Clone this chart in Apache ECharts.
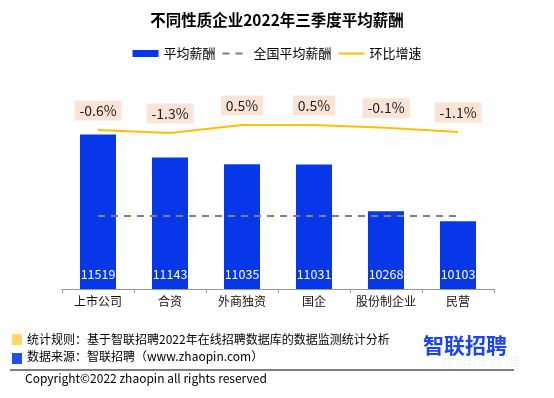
<!DOCTYPE html>
<html>
<head>
<meta charset="utf-8">
<script src="https://cdn.jsdelivr.net/npm/echarts@6/dist/echarts.min.js"></script>
<style>
html,body{margin:0;padding:0;background:#fff;}
#chart{width:554px;height:398px;}
</style>
</head>
<body>
<div id="chart"></div>
<script>
// 企业性质
var categories = ['上市公司', '合资', '外商独资', '国企', '股份制企业', '民营'];
// 平均薪酬
var salary = [11519, 11143, 11035, 11031, 10268, 10103];
// 全国平均薪酬
var national = [10190, 10190, 10190, 10190, 10190, 10190];
// 环比增速 (%)
var growth = [-0.6, -1.3, 0.5, 0.5, -0.1, -1.1];

var FONT = '"Noto Sans CJK SC", "Microsoft YaHei", sans-serif';

var option = {
    textStyle: {fontFamily: FONT},
    title: {
        text: '不同性质企业2022年三季度平均薪酬',
        left: 'center',
        top: 7,
        textStyle: {fontSize: 15.5, fontWeight: 'bold', color: '#000', fontFamily: FONT}
    },
    legend: {
        top: 42,
        left: 'center',
        itemGap: 6,
        itemWidth: 26,
        itemHeight: 7,
        textStyle: {fontSize: 13, color: '#000', fontFamily: FONT},
        data: [
            {name: '平均薪酬', icon: 'rect'},
            {name: '全国平均薪酬'},
            {name: '环比增速'}
        ]
    },
    grid: {left: 62, right: 60, top: 105, bottom: 109},
    xAxis: {
        type: 'category',
        data: categories,
        axisLine: {onZero: false, lineStyle: {color: '#999'}},
        axisTick: {show: true, length: 4, lineStyle: {color: '#999'}},
        axisLabel: {color: '#111', fontSize: 12, margin: 6, interval: 0}
    },
    yAxis: [{
        type: 'value',
        min: 9000,
        max: 12000,
        show: false
    }, {
        type: 'value',
        min: -36.4,
        max: 5,
        show: false
    }],
    series: [{
        name: '平均薪酬',
        type: 'bar',
        data: salary,
        barWidth: 36,
        itemStyle: {color: '#0638e9'},
        label: {
            show: true,
            position: 'insideBottom',
            distance: 8,
            color: '#fff',
            fontSize: 12.5
        }
    }, {
        name: '全国平均薪酬',
        type: 'line',
        data: national,
        symbol: 'circle',
        symbolSize: 1,
        lineStyle: {color: '#808080', width: 2, type: [7, 6]},
        itemStyle: {color: 'rgba(0,0,0,0)'}
    }, {
        name: '环比增速',
        type: 'line',
        yAxisIndex: 1,
        data: growth,
        symbol: 'circle',
        symbolSize: 1,
        lineStyle: {color: '#ffc000', width: 2},
        itemStyle: {color: 'rgba(0,0,0,0)'},
        label: {
            show: true,
            position: 'top',
            distance: 9,
            formatter: function (p) { return p.value + '%'; },
            color: '#222',
            fontSize: 14,
            backgroundColor: '#fbe4d6',
            padding: [3, 5, 3, 5]
        }
    }],
    graphic: [
        {type: 'rect', left: 12, top: 334, shape: {width: 10, height: 11}, style: {fill: '#ffd966'}},
        {type: 'text', left: 27, top: 333, style: {text: '统计规则：基于智联招聘2022年在线招聘数据库的数据监测统计分析', fontSize: 12, fill: '#000', fontFamily: FONT}},
        {type: 'rect', left: 12, top: 353, shape: {width: 10, height: 11}, style: {fill: '#2050f5'}},
        {type: 'text', left: 27, top: 350, style: {text: '数据来源：智联招聘（www.zhaopin.com）', fontSize: 12, fill: '#000', fontFamily: FONT}},
        {type: 'line', shape: {x1: 10, y1: 370, x2: 514, y2: 370}, style: {stroke: '#000', lineWidth: 1}},
        {type: 'text', left: 25, top: 372, style: {text: 'Copyright©2022 zhaopin all rights reserved', fontSize: 12, fill: '#000', fontFamily: FONT}},
        {type: 'text', left: 423, top: 335, style: {text: '智联招聘', fontSize: 21, fontWeight: 'bold', fill: '#1a45f0', fontFamily: FONT}},
        {type: 'text', left: 440, top: 355, style: {text: '昆明信息港', fontSize: 16, fill: 'rgba(0,0,0,0.04)', fontFamily: FONT}}
    ]
};

var myChart = echarts.init(document.getElementById('chart'));
myChart.setOption(option);
</script>
</body>
</html>
